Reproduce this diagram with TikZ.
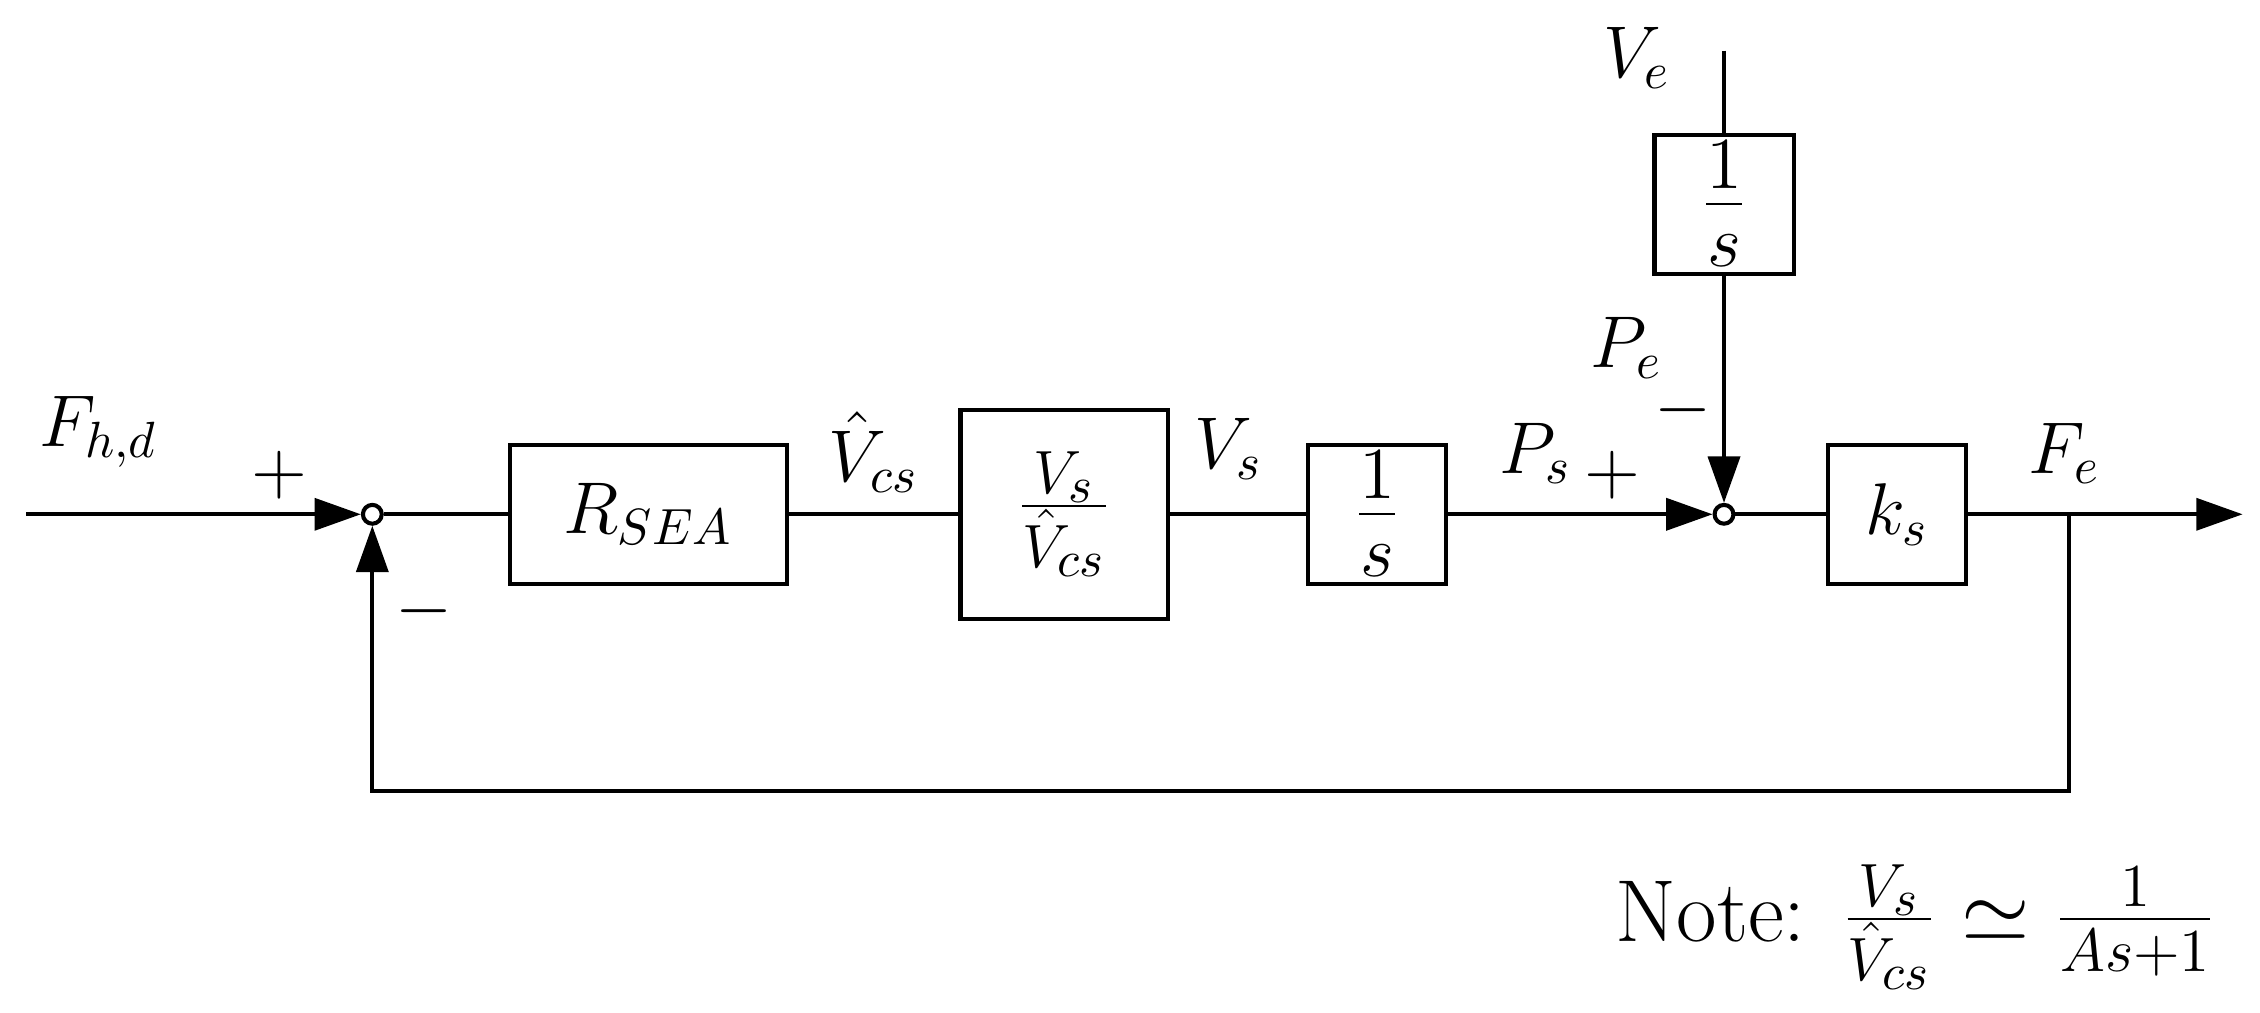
\documentclass[tikz,border=0pt]{standalone}
\usetikzlibrary{arrows.meta}
\begin{document}
\begin{tikzpicture}[
    block/.style={draw, thick, inner sep=0pt, font=\Large},
    sumnode/.style={draw, thick, circle, fill=white, minimum size=0.13cm, inner sep=0pt},
    lbl/.style={font=\Large},
    sig/.style={thick, -{Triangle[length=0.32cm, width=0.22cm]}}
]
        \useasboundingbox (0, 0) rectangle (15.6, -6.99);

        % Forward path blocks
        \node[block, minimum width=1.91cm, minimum height=0.96cm] (rsea) at (4.475, -3.55) {$R_{SEA}$};
        \node[block, font=\LARGE, minimum width=1.43cm, minimum height=1.44cm] (plant) at (7.345, -3.55) {$\frac{V_s}{\hat{V}_{cs}}$};
        \node[block, font=\huge, minimum width=0.95cm, minimum height=0.96cm] (intS) at (9.505, -3.55) {$\frac{1}{s}$};
        \node[block, minimum width=0.95cm, minimum height=0.96cm] (spring) at (13.095, -3.55) {$k_s$};

        % Environment branch
        \node[block, font=\huge, minimum width=0.96cm, minimum height=0.96cm] (intE) at (11.9, -1.41) {$\frac{1}{s}$};
        \coordinate (ve) at (11.9, -0.35);

        % Summing junctions
        \node[sumnode] (sum1) at (2.57, -3.55) {};
        \node[sumnode] (sum2) at (11.9, -3.55) {};

        % Input, output and feedback points
        \coordinate (in) at (0.18, -3.55);
        \coordinate (out) at (15.48, -3.55);
        \coordinate (tap) at (14.28, -3.55);

        % Connectors
        \draw[sig] (in) -- (sum1);
        \draw[thick] (sum1) -- (rsea);
        \draw[thick] (rsea) -- (plant);
        \draw[thick] (plant) -- (intS);
        \draw[sig] (intS) -- (sum2);
        \draw[thick] (sum2) -- (spring);
        \draw[sig] (spring) -- (out);
        \draw[thick] (ve) -- (intE);
        \draw[sig] (intE) -- (sum2);
        \draw[sig] (tap) |- (2.57, -5.46) -- (sum1);

        % Labels
        \node[lbl] at (0.68, -2.98) {$F_{h,d}$};
        \node[lbl] at (1.93, -3.28) {$+$};
        \node[lbl] at (2.93, -4.22) {$-$};
        \node[lbl] at (6.03, -3.12) {$\hat{V}_{cs}$};
        \node[lbl] at (8.48, -3.1) {$V_s$};
        \node[lbl] at (10.6, -3.13) {$P_s$};
        \node[lbl] at (11.13, -3.28) {$+$};
        \node[lbl] at (11.23, -2.4) {$P_e$};
        \node[lbl] at (11.62, -2.83) {$-$};
        \node[lbl] at (11.3, -0.4) {$V_e$};
        \node[lbl] at (14.25, -3.13) {$F_e$};
        \node[font=\LARGE, anchor=east] at (15.42, -6.4) {Note: $\frac{V_s}{\hat{V}_{cs}} \simeq \frac{1}{As+1}$};

\end{tikzpicture}
\end{document}
